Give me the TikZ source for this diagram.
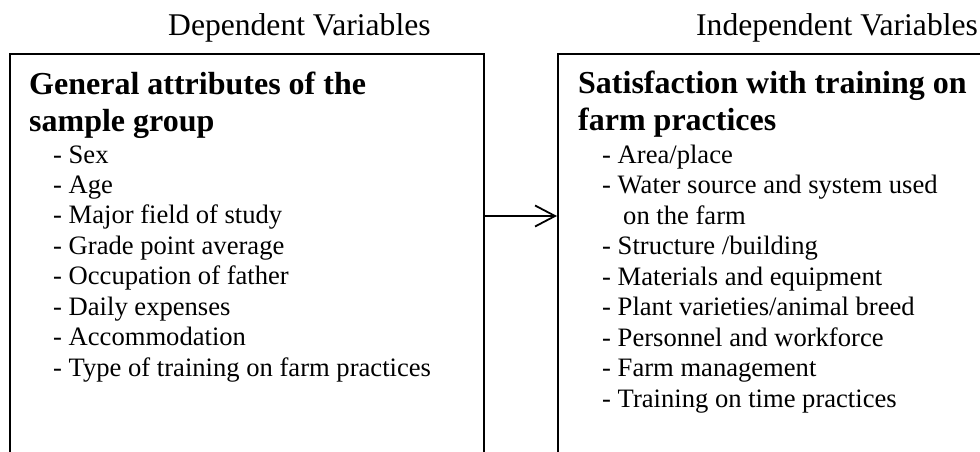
\documentclass[tikz,border=0pt]{standalone}
\usepackage{fontspec}
\setmainfont{Liberation Serif}
\usetikzlibrary{arrows.meta}
\begin{document}
\begin{tikzpicture}[x=1pt,y=-1pt,
  txt/.style={anchor=base west, inner sep=0pt, font=\fontsize{26.6}{30}\selectfont},
  hdr/.style={anchor=base west, inner sep=0pt, font=\fontsize{32}{37}\selectfont\bfseries},
  ttl/.style={anchor=base west, inner sep=0pt, font=\fontsize{31.6}{36}\selectfont},
  boxst/.style={draw, line width=1.9pt, anchor=north west, inner sep=0pt, minimum height=460pt},
  conn/.style={-{Straight Barb[length=20pt,width=21pt]}, line width=1.8pt}]
\useasboundingbox (0,0) rectangle (980,452);
\clip (0,0) rectangle (980,452);
\fill[white] (0,0) rectangle (980,452);

% titles
\node[ttl] (tdep) at (168,36) {Dependent Variables};
\node[ttl] (tind) at (696,36) {Independent Variables};

% boxes
\node[boxst, minimum width=474pt] (lbox) at (9,53) {};
\node[boxst, minimum width=520pt] (rbox) at (557,53) {};

% connector
\coordinate (ay) at (0,216);
\draw[conn] (lbox.east |- ay) -- (rbox.west |- ay);

% left box text
\node[hdr] (lh1) at (29,94) {General attributes of the};
\node[hdr] (lh2) at (29,131) {sample group};
\foreach \t [count=\i from 0] in {Sex, Age, Major field of study, Grade point average,
  Occupation of father, Daily expenses, Accommodation, Type of training on farm practices}
  \node[txt] (l\i) at (53,{163+30.45*\i}) {- \t};

% right box text
\node[hdr] (rh1) at (578,93) {Satisfaction with training on};
\node[hdr] (rh2) at (578,130) {farm practices};
\node[txt] (r0) at (602,163) {- Area/place};
\node[txt] (r1) at (602,193.5) {- Water source and system used};
\node[txt] (r2) at (623,224) {on the farm};
\node[txt] (r3) at (602,254.5) {- Structure /building};
\node[txt] (r4) at (602,285) {- Materials and equipment};
\node[txt] (r5) at (602,315.5) {- Plant varieties/animal breed};
\node[txt] (r6) at (602,346) {- Personnel and workforce};
\node[txt] (r7) at (602,376.5) {- Farm management};
\node[txt] (r8) at (602,407) {- Training on time practices};
\end{tikzpicture}
\end{document}
